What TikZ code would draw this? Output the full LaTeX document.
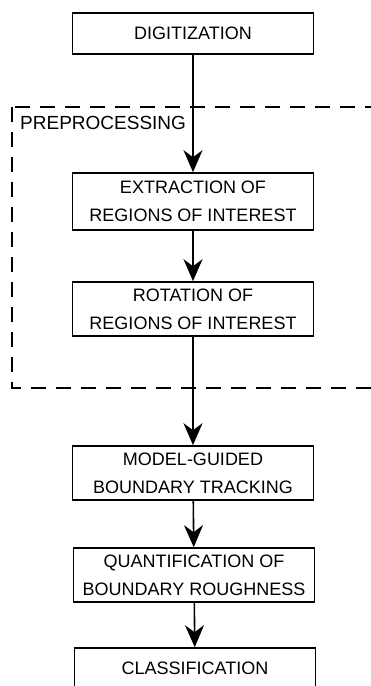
\documentclass[tikz,border=0pt]{standalone}
\usepackage{fontspec}
\setmainfont{Liberation Sans}
\usetikzlibrary{arrows.meta, positioning}

\begin{document}
\begin{tikzpicture}[x=1pt, y=-1pt,
    stepbox/.style={draw, line width=1.6pt, minimum width=241pt, inner sep=0pt, align=center,
        font=\fontsize{18}{28}\selectfont},
    flow/.style={-{Stealth[length=22pt, width=19pt, inset=7pt]}, line width=1.6pt}]
                \useasboundingbox (0, 0) rectangle (370, 686);

                % Preprocessing frame
                \draw[line width=1.5pt, dash pattern=on 15pt off 10pt] (12, 107) rectangle (390, 388);
                \node[anchor=base west, inner sep=0pt, font=\fontsize{19}{22}\selectfont] (prelabel) at (20, 129) {PREPROCESSING};

                % Boxes
                \node[stepbox, minimum height=41pt] (digit) at (193, 33.5) {DIGITIZATION};
                \node[stepbox, minimum height=57pt] (extract) at (193, 201.5) {EXTRACTION OF\\REGIONS OF INTEREST};
                \node[stepbox, minimum height=54pt] (rotate) at (193, 309) {ROTATION OF\\REGIONS OF INTEREST};
                \node[stepbox, minimum height=54pt] (track) at (193, 473) {MODEL-GUIDED\\BOUNDARY TRACKING};
                \node[stepbox, minimum height=54pt] (rough) at (194, 575) {QUANTIFICATION OF\\BOUNDARY ROUGHNESS};
                \node[stepbox, minimum height=41pt] (classify) at (195, 668.5) {CLASSIFICATION};

                % Arrows
                \draw[flow] (digit) -- (extract);
                \draw[flow] (extract) -- (rotate);
                \draw[flow] (rotate) -- (track);
                \draw[flow] (track) -- (rough);
                \draw[flow] (rough) -- (classify);
            \end{tikzpicture}
\end{document}
